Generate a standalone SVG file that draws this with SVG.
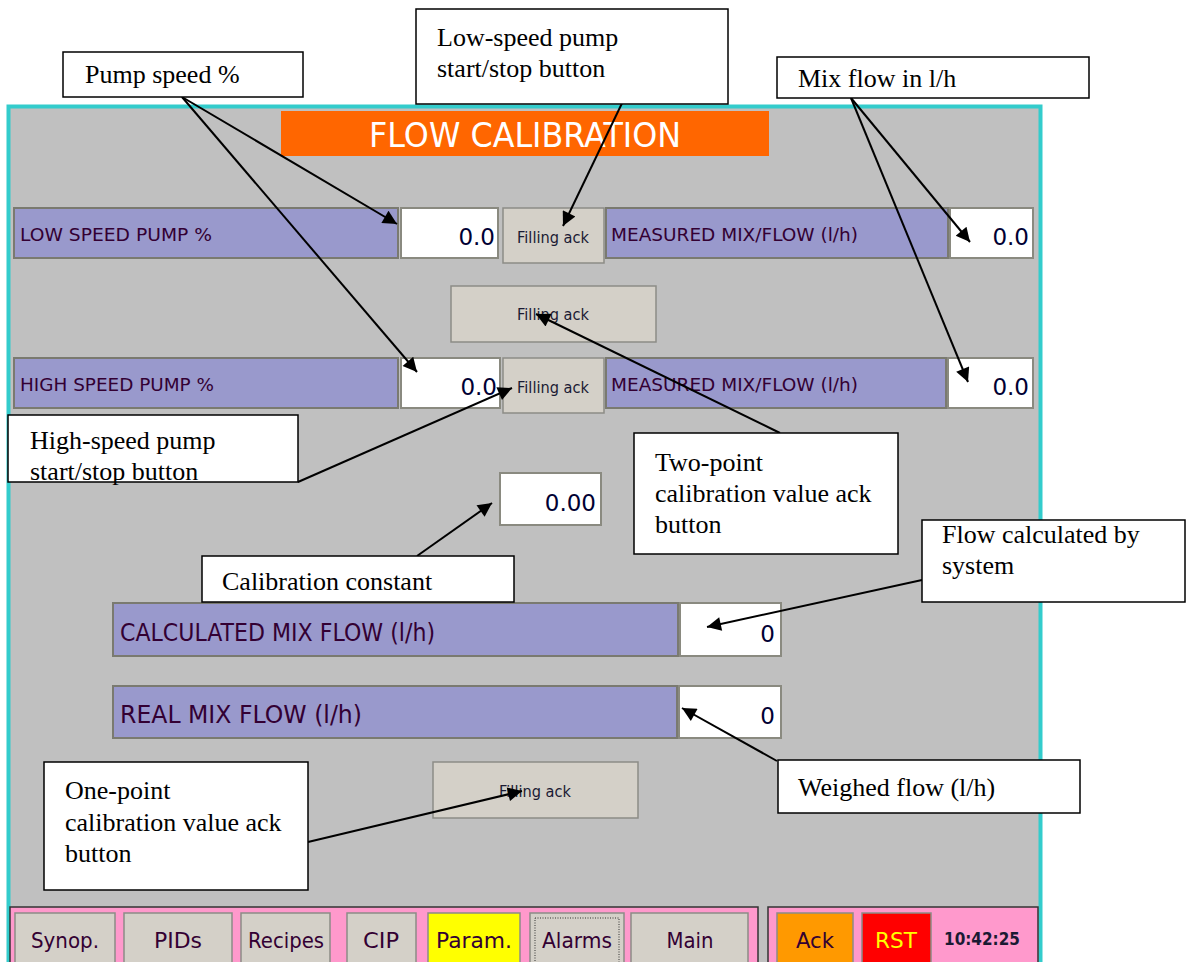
<svg xmlns="http://www.w3.org/2000/svg" width="1186" height="962" viewBox="0 0 1186 962">
<style>
.lbl{fill:#9999CC;stroke:#7a7a70;stroke-width:2}
.val{fill:#FFFFFF;stroke:#8a8a80;stroke-width:2}
.btn{fill:#D4D0C8;stroke:#8c8c86;stroke-width:1.5}
.hmi{font-family:"DejaVu Sans","Liberation Sans",sans-serif;fill:#330033}
.num{font-family:"DejaVu Sans","Liberation Sans",sans-serif;fill:#000033;text-anchor:end}
.btxt{font-family:"DejaVu Sans","Liberation Sans",sans-serif;fill:#1a1a33;text-anchor:middle;font-size:15px}
.nav{font-family:"DejaVu Sans","Liberation Sans",sans-serif;fill:#330033;text-anchor:middle;font-size:22px}
.cbox{fill:#FFFFFF;stroke:#000000;stroke-width:1.5}
.ctxt{font-family:"Liberation Serif","Times New Roman",serif;font-size:26px;fill:#000000}
.con{stroke:#000000;stroke-width:2;fill:none}
</style>
<defs>
<marker id="ah" viewBox="0 0 10 10" refX="10" refY="5" markerWidth="18" markerHeight="14" markerUnits="userSpaceOnUse" orient="auto"><path d="M0,0 L10,5 L0,10 z" fill="#000"/></marker>
</defs>
<rect width="1186" height="962" fill="#FFFFFF"/>
<g id="panel">
<rect x="8.5" y="106.5" width="1032" height="860" fill="#C0C0C0" stroke="#33CCCC" stroke-width="4"/>
<rect x="281" y="111" width="488" height="45" fill="#FF6600"/>
<text x="525" y="147" font-family="DejaVu Sans,Liberation Sans,sans-serif" font-size="34" fill="#FFFFFF" text-anchor="middle" textLength="312" lengthAdjust="spacingAndGlyphs">FLOW CALIBRATION</text>
</g>
<g id="row1">
<rect class="lbl" x="14" y="208" width="384" height="50"/>
<text class="hmi" x="20" y="241" font-size="17" textLength="192" lengthAdjust="spacingAndGlyphs">LOW SPEED PUMP %</text>
<rect class="val" x="401" y="208" width="97" height="50"/>
<text class="num" x="495" y="245" font-size="23">0.0</text>
<rect class="btn" x="503" y="208" width="101" height="55"/>
<text class="btxt" x="553" y="243" textLength="72" lengthAdjust="spacingAndGlyphs">Filling ack</text>
<rect class="lbl" x="606" y="208" width="342" height="50"/>
<text class="hmi" x="611" y="241" font-size="17" textLength="247" lengthAdjust="spacingAndGlyphs">MEASURED MIX/FLOW (l/h)</text>
<rect class="val" x="950" y="208" width="83" height="50"/>
<text class="num" x="1029" y="245" font-size="23">0.0</text>
</g>
<g id="btn-two-point">
<rect class="btn" x="451" y="286" width="205" height="56"/>
<text class="btxt" x="553" y="320" textLength="72" lengthAdjust="spacingAndGlyphs">Filling ack</text>
</g>
<g id="row2">
<rect class="lbl" x="14" y="358" width="384" height="50"/>
<text class="hmi" x="20" y="391" font-size="17" textLength="194" lengthAdjust="spacingAndGlyphs">HIGH SPEED PUMP %</text>
<rect class="val" x="401" y="358" width="99" height="50"/>
<text class="num" x="497" y="395" font-size="23">0.0</text>
<rect class="btn" x="503" y="358" width="101" height="55"/>
<text class="btxt" x="553" y="393" textLength="72" lengthAdjust="spacingAndGlyphs">Filling ack</text>
<rect class="lbl" x="606" y="358" width="340" height="50"/>
<text class="hmi" x="611" y="391" font-size="17" textLength="247" lengthAdjust="spacingAndGlyphs">MEASURED MIX/FLOW (l/h)</text>
<rect class="val" x="948" y="358" width="85" height="50"/>
<text class="num" x="1029" y="395" font-size="23">0.0</text>
</g>
<g id="cal-constant-field">
<rect class="val" x="500" y="473" width="101" height="52"/>
<text class="num" x="596" y="511" font-size="23">0.00</text>
</g>
<g id="calc-flow">
<rect class="lbl" x="113" y="603" width="565" height="53"/>
<text class="hmi" x="120" y="641" font-size="24" textLength="315" lengthAdjust="spacingAndGlyphs">CALCULATED MIX FLOW (l/h)</text>
<rect class="val" x="680" y="603" width="101" height="53"/>
<text class="num" x="775" y="642" font-size="23">0</text>
</g>
<g id="real-flow">
<rect class="lbl" x="113" y="686" width="564" height="52"/>
<text class="hmi" x="120" y="723" font-size="24" textLength="242" lengthAdjust="spacingAndGlyphs">REAL MIX FLOW (l/h)</text>
<rect class="val" x="679" y="686" width="102" height="52"/>
<text class="num" x="775" y="724" font-size="23">0</text>
</g>
<g id="btn-one-point">
<rect class="btn" x="433" y="762" width="205" height="56"/>
<text class="btxt" x="535" y="797" textLength="72" lengthAdjust="spacingAndGlyphs">Filling ack</text>
</g>
<g id="nav-bar">
<rect x="10" y="907" width="748" height="60" fill="#FF99CC" stroke="#333" stroke-width="1.5"/>
<rect x="768" y="907" width="270" height="60" fill="#FF99CC" stroke="#333" stroke-width="1.5"/>
<rect class="btn" x="15" y="913" width="100" height="55"/><text class="nav" x="65" y="948" textLength="68" lengthAdjust="spacingAndGlyphs">Synop.</text>
<rect class="btn" x="124" y="913" width="108" height="55"/><text class="nav" x="178" y="948" textLength="48" lengthAdjust="spacingAndGlyphs">PIDs</text>
<rect class="btn" x="241" y="913" width="89" height="55"/><text class="nav" x="286" y="948" textLength="76" lengthAdjust="spacingAndGlyphs">Recipes</text>
<rect class="btn" x="347" y="913" width="69" height="55"/><text class="nav" x="381" y="948" textLength="36" lengthAdjust="spacingAndGlyphs">CIP</text>
<rect x="428" y="913" width="92" height="55" fill="#FFFF00" stroke="#8c8c86" stroke-width="1.5"/><text class="nav" x="474" y="948" textLength="76" lengthAdjust="spacingAndGlyphs">Param.</text>
<rect class="btn" x="530" y="913" width="94" height="55" stroke="#222" stroke-width="2"/>
<rect x="535" y="918" width="84" height="45" fill="none" stroke="#333" stroke-width="1" stroke-dasharray="1,1.5"/>
<text class="nav" x="577" y="948" textLength="70" lengthAdjust="spacingAndGlyphs">Alarms</text>
<rect class="btn" x="631" y="913" width="117" height="55"/><text class="nav" x="690" y="948" textLength="47" lengthAdjust="spacingAndGlyphs">Main</text>
<rect x="777" y="913" width="76" height="55" fill="#FF9900" stroke="#8c8c86" stroke-width="1.5"/><text class="nav" x="815" y="948" textLength="38" lengthAdjust="spacingAndGlyphs">Ack</text>
<rect x="862" y="913" width="69" height="55" fill="#FF0000" stroke="#8c8c86" stroke-width="1.5"/><text class="nav" x="896" y="948" style="fill:#FFFF00" textLength="42" lengthAdjust="spacingAndGlyphs">RST</text>
<text x="982" y="945" font-family="DejaVu Sans,Liberation Sans,sans-serif" font-size="17" font-weight="bold" fill="#1a1a33" text-anchor="middle" textLength="76" lengthAdjust="spacingAndGlyphs">10:42:25</text>
</g>
<g id="connectors">
<line class="con" x1="182" y1="97" x2="397" y2="224" marker-end="url(#ah)"/>
<line class="con" x1="182" y1="97" x2="417" y2="372" marker-end="url(#ah)"/>
<line class="con" x1="637" y1="72" x2="563" y2="226" marker-end="url(#ah)"/>
<line class="con" x1="851" y1="98" x2="970" y2="242" marker-end="url(#ah)"/>
<line class="con" x1="851" y1="98" x2="968" y2="382" marker-end="url(#ah)"/>
<line class="con" x1="298" y1="482" x2="512" y2="388" marker-end="url(#ah)"/>
<line class="con" x1="780" y1="433" x2="536" y2="314" marker-end="url(#ah)"/>
<line class="con" x1="417" y1="556" x2="492" y2="503" marker-end="url(#ah)"/>
<line class="con" x1="922" y1="580" x2="707" y2="627" marker-end="url(#ah)"/>
<line class="con" x1="777" y1="761" x2="682" y2="708" marker-end="url(#ah)"/>
<line class="con" x1="308" y1="842" x2="522" y2="791" marker-end="url(#ah)"/>
</g>
<g id="c-pump-speed"><rect class="cbox" x="63" y="52" width="240" height="45"/><text class="ctxt" x="85" y="83">Pump speed %</text></g>
<g id="c-low-speed"><rect class="cbox" x="416" y="9" width="312" height="95"/><text class="ctxt" x="437" y="46">Low-speed pump</text><text class="ctxt" x="437" y="77">start/stop button</text></g>
<g id="c-mix-flow"><rect class="cbox" x="777" y="57" width="312" height="41"/><text class="ctxt" x="798" y="87">Mix flow in l/h</text></g>
<g id="c-high-speed"><rect class="cbox" x="8" y="415" width="290" height="67"/><text class="ctxt" x="30" y="449">High-speed pump</text><text class="ctxt" x="30" y="480">start/stop button</text></g>
<g id="c-two-point"><rect class="cbox" x="634" y="433" width="264" height="121"/><text class="ctxt" x="655" y="471">Two-point</text><text class="ctxt" x="655" y="502">calibration value ack</text><text class="ctxt" x="655" y="533">button</text></g>
<g id="c-cal-constant"><rect class="cbox" x="202" y="556" width="312" height="46"/><text class="ctxt" x="222" y="590">Calibration constant</text></g>
<g id="c-flow-calc"><rect class="cbox" x="922" y="520" width="263" height="82"/><text class="ctxt" x="942" y="543">Flow calculated by</text><text class="ctxt" x="942" y="574">system</text></g>
<g id="c-weighed"><rect class="cbox" x="778" y="760" width="302" height="53"/><text class="ctxt" x="798" y="796">Weighed flow (l/h)</text></g>
<g id="c-one-point"><rect class="cbox" x="44" y="762" width="264" height="128"/><text class="ctxt" x="65" y="799">One-point</text><text class="ctxt" x="65" y="831">calibration value ack</text><text class="ctxt" x="65" y="862">button</text></g>
</svg>
